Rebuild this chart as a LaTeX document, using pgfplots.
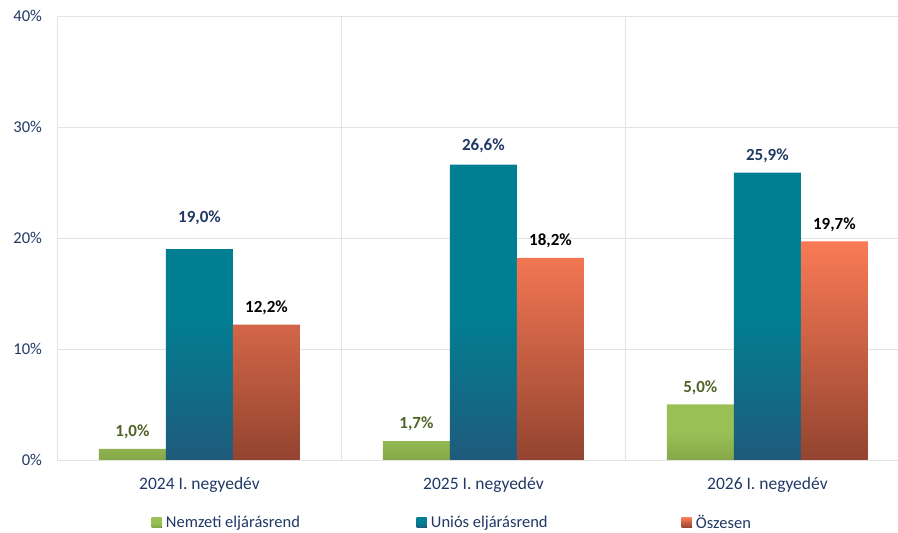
\documentclass[border=0pt]{standalone}
\usepackage{fontspec}
\setmainfont{Carlito}
\usepackage{pgfplots}
\pgfplotsset{compat=1.18}
\usepackage{pgfplotstable}
\definecolor{navy}{HTML}{1F3864}
\definecolor{gtxt}{HTML}{4F6228}
\definecolor{grn}{HTML}{99C055}
\definecolor{grnB}{HTML}{85A849}
\definecolor{tealT}{HTML}{007F93}
\definecolor{tealB}{HTML}{1F5A7B}
\definecolor{orT}{HTML}{FA7A56}
\definecolor{orB}{HTML}{934430}
\definecolor{gridc}{HTML}{E3E3E3}
\pgfplotstableread{
x y off
0 1.0 17
1 1.7 17
2 5.0 17
}\nemzeti
\pgfplotstableread{
x y off
0 19.0 31
1 26.6 19
2 25.9 17
}\unios
\pgfplotstableread{
x y off
0 12.2 17
1 18.2 17
2 19.7 17
}\osszes
\begin{document}
\begin{tikzpicture}
\begin{axis}[
  scale only axis, width=840.5pt, height=444pt,
  xmin=-0.5, xmax=2.46, ymin=0, ymax=40,
  ybar=0pt, bar width=0.236,
  axis line style={draw=none},
  ytick={0,10,20,30,40},
  yticklabel={\pgfmathprintnumber{\tick}\%},
  xtick={0,1,2},
  xticklabels={2024 I. negyedév,2025 I. negyedév,2026 I. negyedév},
  extra x ticks={-0.5,0.5,1.5},
  extra x tick labels={},
  extra x tick style={grid=major},
  major tick length=0pt,
  ymajorgrids,
  grid style={draw=gridc, line width=0.9pt},
  tick label style={text=navy},
  yticklabel style={font=\fontsize{16.5}{18}\selectfont, xshift=-12pt},
  xticklabel style={font=\fontsize{17.5}{19}\selectfont, yshift=-14pt},
  /pgf/number format/assume math mode=true,
  visualization depends on={\thisrow{off} \as \myoff},
  nodes near coords={\pgfmathprintnumber[fixed,fixed zerofill,precision=1,use comma]{\pgfplotspointmeta}\%},
  every node near coord/.append style={anchor=center, yshift=\myoff pt, font=\bfseries\fontsize{17}{19}\selectfont},
  legend columns=3,
  legend image code/.code={\fill[#1] (0pt,-5pt) rectangle (10pt,5pt);},
  legend style={draw=none, fill=none, at={(0.1119,-0.141)}, anchor=west,
    font=\fontsize{16.5}{18}\selectfont, text=navy, inner sep=0pt,
    /tikz/every even column/.append style={column sep=0pt},
    nodes={inner sep=1.5pt}},
]
\addplot[draw=none, top color=grn, bottom color=grnB, middle color=grn, bar shift=-0.236,
  every node near coord/.append style={text=gtxt}] table[x=x,y=y] {\nemzeti};
\addlegendentry{\makebox[252pt][l]{\,Nemzeti eljárásrend}}
\addplot[draw=none, top color=tealT, bottom color=tealB, middle color=tealT, bar shift=0,
  every node near coord/.append style={text=navy}] table[x=x,y=y] {\unios};
\addlegendentry{\makebox[252pt][l]{\,Uniós eljárásrend}}
\addplot[draw=none, top color=orT, bottom color=orB, bar shift=0.236,
  every node near coord/.append style={text=black}] table[x=x,y=y] {\osszes};
\addlegendentry{\,Öszesen}
\end{axis}
\pgfresetboundingbox
\path[use as bounding box] (current axis.south west) ++(-57.5pt,-73pt) rectangle ++(898pt,533pt);
\end{tikzpicture}
\end{document}
